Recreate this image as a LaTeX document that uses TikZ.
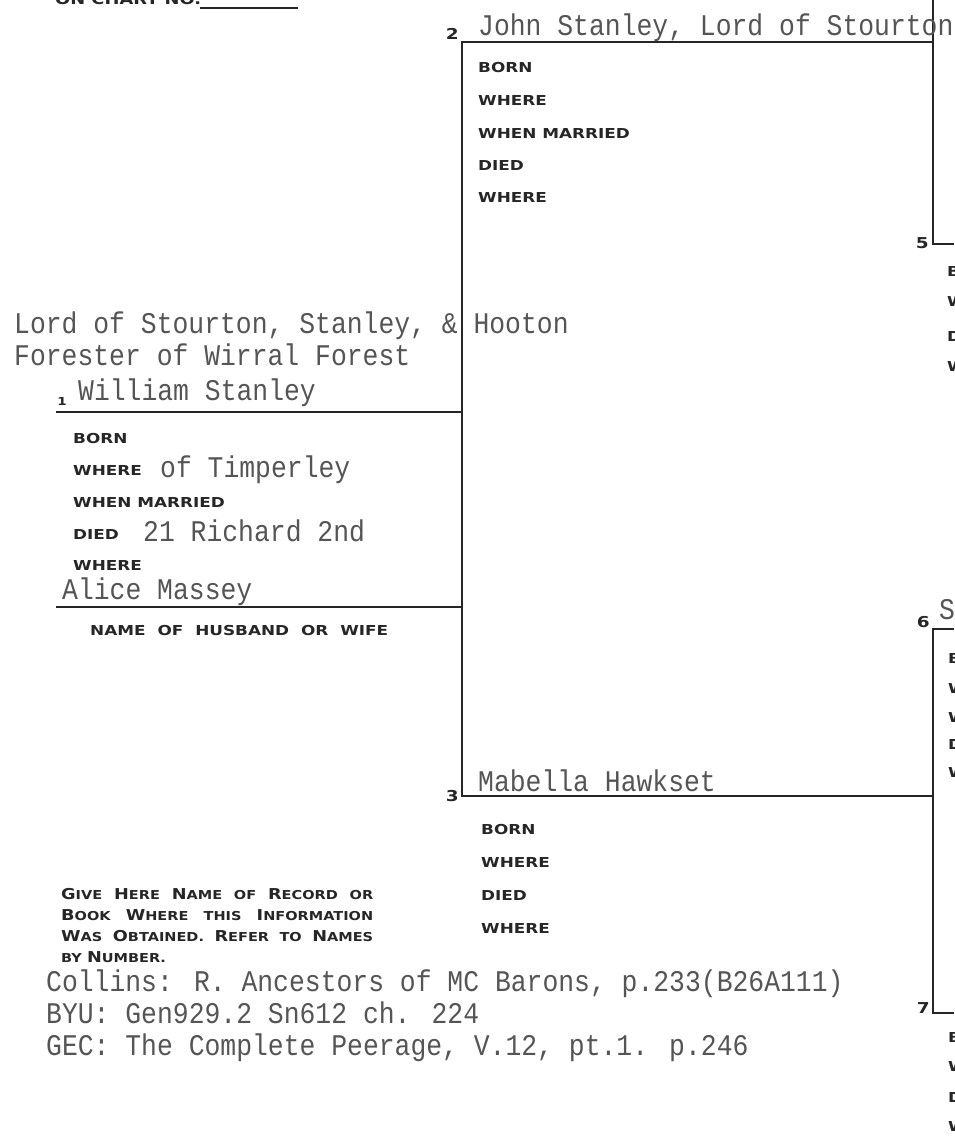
\documentclass[tikz,border=0pt]{standalone}
\usepackage{fontspec}
\newfontfamily\twfont[FakeStretch=0.88]{Liberation Mono}
\newfontfamily\labfont[FakeStretch=1.23]{DejaVu Sans}
\newfontfamily\scfont[FakeStretch=1.18]{DejaVu Sans}
\definecolor{ink}{HTML}{262626}
\definecolor{typeink}{HTML}{555555}
\newcommand\Bc[1]{{\fontsize{15}{15}\selectfont #1}}
\tikzset{
  ruleline/.style={draw=ink, line width=2.2pt},
  typed/.style={font={\twfont\fontsize{30}{30}\selectfont}, text=typeink, anchor=base west, inner sep=0pt},
  lbl/.style={font={\labfont\bfseries\fontsize{13.7}{14}\selectfont}, text=ink, anchor=base west, inner sep=0pt},
  numlab/.style={font={\labfont\bfseries\fontsize{15}{15}\selectfont}, text=ink, anchor=base east, inner sep=0pt},
  gstyle/.style={font={\scfont\bfseries\fontsize{12.3}{12.3}\selectfont}, text=ink, anchor=base west, inner sep=0pt}
}
\begin{document}
\begin{tikzpicture}[x=1pt,y=-1pt]
\fill[white] (0,0) rectangle (954,1140);
\useasboundingbox (0,0) rectangle (954,1140);
\clip (0,0) rectangle (954,1140);

% coordinates of the chart rules
\coordinate (c2) at (462,42);
\coordinate (c2r) at (933,42);
\coordinate (t45) at (933,0);
\coordinate (c5) at (933,244);
\coordinate (e5) at (954,244);
\coordinate (c3) at (462,796);
\coordinate (c3r) at (933,796);
\coordinate (c6) at (933,629);
\coordinate (e6) at (954,629);
\coordinate (c7) at (933,1013);
\coordinate (e7) at (954,1013);
\coordinate (l1a) at (56,412);
\coordinate (l1b) at (463,412);
\coordinate (spa) at (56,607);
\coordinate (spb) at (463,607);
\coordinate (ocna) at (200,8);
\coordinate (ocnb) at (298,8);

\draw[ruleline] (c2r) -- (c2) -- (c3) -- (c3r);
\draw[ruleline] (t45) -- (c5) -- (e5);
\draw[ruleline] (e6) -- (c6) -- (c7) -- (e7);
\draw[ruleline] (l1a) -- (l1b);
\draw[ruleline] (spa) -- (spb);
\draw[ruleline, line width=1.6pt] (ocna) -- (ocnb);

% top label
\node[lbl, font={\labfont\bfseries\fontsize{14.5}{15}\selectfont}] (onchart) at (55,5) {ON CHART NO.};

% person 2
\node[numlab] (k2) at (459,40) {2};
\node[typed] (n2) at (478,36) {John Stanley, Lord of Stourton};
\node[lbl] (b2a) at (478,73) {BORN};
\node[lbl] (b2b) at (478,105) {WHERE};
\node[lbl] (b2c) at (478,138) {WHEN MARRIED};
\node[lbl] (b2d) at (478,170) {DIED};
\node[lbl] (b2e) at (478,202) {WHERE};

% person 5 (cut off at the edge)
\node[numlab] (k5) at (929,248) {5};
\node[lbl] (b5a) at (947,276) {BORN};
\node[lbl] (b5b) at (947,306) {WHERE};
\node[lbl] (b5c) at (947,341) {DIED};
\node[lbl] (b5d) at (947,371) {WHERE};

% person 1
\node[typed] (t1a) at (14,333) {Lord of Stourton, Stanley, \& Hooton};
\node[typed] (t1b) at (14,365) {Forester of Wirral Forest};
\node[numlab, font={\labfont\bfseries\fontsize{11}{11}\selectfont}] (k1) at (67,405) {1};
\node[typed] (n1) at (78,400) {William Stanley};
\node[lbl] (b1a) at (73,443) {BORN};
\node[lbl] (b1b) at (73,475) {WHERE};
\node[typed] (v1b) at (160,477) {of Timperley};
\node[lbl] (b1c) at (73,507) {WHEN MARRIED};
\node[lbl] (b1d) at (73,539) {DIED};
\node[typed] (v1d) at (143,541) {21 Richard 2nd};
\node[lbl] (b1e) at (73,570) {WHERE};
\node[typed] (sp) at (62,599) {Alice Massey};
\node[lbl] (spl) at (90,635) {\makebox[298pt][s]{NAME OF HUSBAND OR WIFE}};

% person 3
\node[numlab] (k3) at (459,801) {3};
\node[typed] (n3) at (478,791) {Mabella Hawkset};
\node[lbl] (b3a) at (481,834) {BORN};
\node[lbl] (b3b) at (481,867) {WHERE};
\node[lbl] (b3c) at (481,900) {DIED};
\node[lbl] (b3d) at (481,933) {WHERE};

% person 6 (cut off at the edge)
\node[numlab] (k6) at (930,627) {6};
\node[typed] (n6) at (939,619) {S};
\node[lbl] (b6a) at (948,663) {BORN};
\node[lbl] (b6b) at (948,693) {WHERE};
\node[lbl] (b6c) at (948,722) {WHEN MARRIED};
\node[lbl] (b6d) at (948,749) {DIED};
\node[lbl] (b6e) at (948,777) {WHERE};

% person 7 (cut off at the edge)
\node[numlab] (k7) at (930,1013) {7};
\node[lbl] (b7a) at (948,1042) {BORN};
\node[lbl] (b7b) at (948,1071) {WHERE};
\node[lbl] (b7c) at (948,1102) {DIED};
\node[lbl] (b7d) at (948,1131) {WHERE};

% sources block
\node[gstyle] (g1) at (61,899) {\makebox[312pt][s]{\Bc{G}IVE \Bc{H}ERE \Bc{N}AME OF \Bc{R}ECORD OR}};
\node[gstyle] (g2) at (61,920) {\makebox[312pt][s]{\Bc{B}OOK \Bc{W}HERE THIS \Bc{I}NFORMATION}};
\node[gstyle] (g3) at (61,941) {\makebox[312pt][s]{\Bc{W}AS \Bc{O}BTAINED. \Bc{R}EFER TO \Bc{N}AMES}};
\node[gstyle] (g4) at (61,962) {BY \Bc{N}UMBER.};

\node[typed] (s1) at (46,991) {Collins: R. Ancestors of MC Barons, p.233(B26A111)};
\node[typed] (s2) at (46,1023) {BYU: Gen929.2 Sn612 ch. 224};
\node[typed] (s3) at (46,1055) {GEC: The Complete Peerage, V.12, pt.1. p.246};
\end{tikzpicture}
\end{document}
